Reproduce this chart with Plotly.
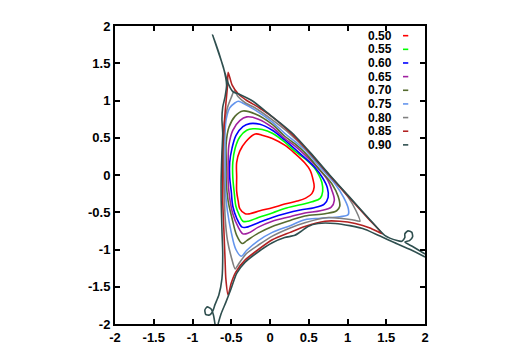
import plotly.graph_objects as go

# contour levels and their line colours
levels = ["0.50", "0.55", "0.60", "0.65", "0.70", "0.75", "0.80", "0.85", "0.90"]
colors = ["#ff0000", "#00ff00", "#0000ff", "#a020a0", "#556b2f",
          "#6495ed", "#808080", "#b22222", "#2f4f4f"]

# closed contours, points
x_050 = [-0.19, -0.09, 0.03, 0.19, 0.32, 0.45, 0.52, 0.55, 0.57, 0.54, 0.46, 0.35, 0.19, 0.03,
         -0.13, -0.26, -0.32, -0.39, -0.41, -0.43, -0.43, -0.43, -0.39, -0.31]
y_050 = [0.55, 0.53, 0.49, 0.40, 0.29, 0.16, 0.06, -0.04, -0.16, -0.25, -0.31, -0.35, -0.39, -0.44,
         -0.48, -0.52, -0.52, -0.45, -0.35, -0.22, -0.03, 0.17, 0.32, 0.45]

x_055 = [-0.22, -0.10, 0.03, 0.18, 0.32, 0.45, 0.57, 0.63, 0.67, 0.68, 0.65, 0.54, 0.39, 0.19,
         0.03, -0.15, -0.28, -0.35, -0.40, -0.44, -0.46, -0.48, -0.48, -0.45, -0.39, -0.30]
y_055 = [0.62, 0.61, 0.56, 0.45, 0.32, 0.22, 0.10, 0.00, -0.10, -0.22, -0.31, -0.36, -0.40, -0.45,
         -0.51, -0.57, -0.62, -0.62, -0.53, -0.42, -0.25, -0.03, 0.17, 0.36, 0.51, 0.60]

x_060 = [-0.26, -0.13, 0.03, 0.19, 0.32, 0.45, 0.58, 0.68, 0.74, 0.75, 0.70, 0.57, 0.39, 0.19,
         0.03, -0.15, -0.30, -0.36, -0.43, -0.48, -0.50, -0.52, -0.52, -0.49, -0.44, -0.35]
y_060 = [0.69, 0.68, 0.60, 0.47, 0.35, 0.23, 0.10, -0.04, -0.17, -0.30, -0.39, -0.44, -0.47, -0.52,
         -0.57, -0.64, -0.70, -0.70, -0.58, -0.42, -0.22, -0.03, 0.17, 0.36, 0.53, 0.65]

x_065 = [-0.30, -0.15, 0.03, 0.19, 0.32, 0.45, 0.62, 0.74, 0.80, 0.83, 0.79, 0.65, 0.45, 0.26,
         0.03, -0.15, -0.28, -0.35, -0.41, -0.48, -0.52, -0.54, -0.54, -0.53, -0.48, -0.39]
y_065 = [0.78, 0.75, 0.64, 0.49, 0.39, 0.27, 0.09, -0.06, -0.21, -0.34, -0.43, -0.48, -0.51, -0.56,
         -0.62, -0.70, -0.78, -0.79, -0.70, -0.52, -0.31, -0.09, 0.17, 0.40, 0.60, 0.73]

x_070 = [-0.35, -0.19, 0.03, 0.19, 0.32, 0.45, 0.65, 0.80, 0.88, 0.90, 0.86, 0.71, 0.45, 0.26,
         0.03, -0.15, -0.30, -0.36, -0.43, -0.49, -0.54, -0.565, -0.565, -0.565, -0.53, -0.45]
y_070 = [0.86, 0.82, 0.68, 0.52, 0.42, 0.30, 0.06, -0.12, -0.29, -0.42, -0.48, -0.52, -0.55, -0.61,
         -0.69, -0.78, -0.88, -0.92, -0.81, -0.58, -0.35, -0.09, 0.17, 0.43, 0.64, 0.79]

x_075 = [-0.41, -0.36, -0.19, 0.03, 0.19, 0.32, 0.45, 0.65, 0.84, 0.95, 1.01, 1.01, 0.90, 0.65,
         0.45, 0.26, 0.03, -0.15, -0.30, -0.37, -0.44, -0.50, -0.55, -0.575, -0.58, -0.58, -0.58,
         -0.565, -0.52, -0.45]
y_075 = [0.99, 0.97, 0.87, 0.71, 0.56, 0.45, 0.34, 0.10, -0.12, -0.30, -0.45, -0.53, -0.56, -0.58,
         -0.60, -0.68, -0.77, -0.88, -1.01, -1.09, -1.00, -0.77, -0.48, -0.22, 0.04, 0.30, 0.56,
         0.75, 0.90, 0.97]

x_080 = [-0.46, -0.41, -0.32, -0.19, 0.03, 0.26, 0.45, 0.65, 0.84, 1.01, 1.11, 1.16, 1.06, 0.90,
         0.75, 0.45, 0.26, 0.03, -0.15, -0.30, -0.39, -0.45, -0.50, -0.55, -0.58, -0.59, -0.60,
         -0.60, -0.59, -0.55, -0.50]
y_080 = [1.13, 1.05, 0.97, 0.90, 0.74, 0.55, 0.36, 0.13, -0.09, -0.30, -0.48, -0.62, -0.60, -0.58,
         -0.57, -0.64, -0.71, -0.82, -0.94, -1.05, -1.17, -1.26, -1.10, -0.87, -0.55, -0.22, 0.10,
         0.43, 0.69, 0.90, 1.04]

x_085 = [-0.54, -0.49, -0.41, -0.30, -0.15, 0.03, 0.26, 0.52, 0.77, 1.03, 1.29, 1.45, 1.29, 1.10,
         0.90, 0.71, 0.45, 0.26, 0.03, -0.15, -0.32, -0.44, -0.50, -0.54, -0.57, -0.58, -0.595,
         -0.61, -0.61, -0.61, -0.59, -0.57, -0.55]
y_085 = [1.38, 1.21, 1.09, 1.00, 0.91, 0.78, 0.57, 0.29, -0.01, -0.31, -0.61, -0.79, -0.71, -0.65,
         -0.62, -0.62, -0.69, -0.77, -0.87, -1.00, -1.14, -1.30, -1.45, -1.61, -1.39, -1.13, -0.74,
         -0.35, -0.03, 0.30, 0.69, 0.95, 1.18]

# the 0.90 level is open: two pieces leaving the frame
x_090a = [-0.71, -0.73, -0.76, -0.81, -0.84, -0.83, -0.78, -0.74, -0.71, -0.66, -0.62, -0.61,
          -0.62, -0.63, -0.63, -0.62, -0.61, -0.62, -0.61, -0.58, -0.56, -0.60, -0.67, -0.74,
          -0.66, -0.59, -0.54, -0.48, -0.39, -0.22, -0.04, 0.13, 0.30, 0.52, 0.77, 1.03, 1.29,
          1.48, 1.64, 1.70, 1.74, 1.74, 1.78, 1.83, 1.84, 1.80, 1.74, 1.84, 2.0]
y_090a = [-2.0, -1.88, -1.80, -1.77, -1.81, -1.87, -1.88, -1.83, -1.74, -1.61, -1.39, -1.06,
          -0.74, -0.35, -0.03, 0.30, 0.56, 0.75, 0.91, 1.05, 1.21, 1.44, 1.66, 1.88,
          1.64, 1.40, 1.23, 1.12, 1.08, 0.99, 0.84, 0.70, 0.55, 0.30, 0.00, -0.30, -0.60,
          -0.81, -0.88, -0.89, -0.84, -0.79, -0.75, -0.77, -0.83, -0.88, -0.90, -0.96, -1.06]

x_090b = [2.0, 1.81, 1.61, 1.42, 1.23, 1.03, 0.84, 0.62, 0.49, 0.41, 0.32, 0.19, 0.03, -0.15,
          -0.32, -0.43, -0.50, -0.57, -0.63, -0.67]
y_090b = [-1.10, -1.00, -0.91, -0.82, -0.73, -0.68, -0.65, -0.65, -0.69, -0.75, -0.81, -0.84,
          -0.91, -1.03, -1.17, -1.32, -1.52, -1.71, -1.86, -2.0]

ticks = [-2, -1.5, -1, -0.5, 0, 0.5, 1, 1.5, 2]
tick_text = ["-2", "-1.5", "-1", "-0.5", "0", "0.5", "1", "1.5", "2"]

closed = [(x_050, y_050), (x_055, y_055), (x_060, y_060), (x_065, y_065),
          (x_070, y_070), (x_075, y_075), (x_080, y_080), (x_085, y_085)]

fig = go.Figure()

for i, (xs, ys) in enumerate(closed):
    smooth = 1.0 if i < 6 else 0.6
    fig.add_trace(go.Scatter(
        x=xs + [xs[0]], y=ys + [ys[0]],
        mode="lines",
        line=dict(color=colors[i], width=1.6, shape="spline", smoothing=smooth),
        showlegend=False, hoverinfo="skip"
    ))

for xs, ys in [(x_090a, y_090a), (x_090b, y_090b)]:
    fig.add_trace(go.Scatter(
        x=xs, y=ys,
        mode="lines",
        line=dict(color=colors[8], width=1.6, shape="spline", smoothing=0.6),
        showlegend=False, hoverinfo="skip"
    ))

# gnuplot-style key: right-aligned text with a short sample to its right
font = dict(family="Liberation Sans", size=13, color="black", weight="bold")
key_font = dict(family="Liberation Sans", size=12, color="black", weight="bold")
annotations = []
shapes = []
for i, (lev, col) in enumerate(zip(levels, colors)):
    yp = 0.9675 - i * 0.0458
    annotations.append(dict(
        x=0.897, y=yp, xref="paper", yref="paper", text=lev,
        showarrow=False, xanchor="right", yanchor="middle",
        font=key_font, borderpad=0
    ))
    shapes.append(dict(
        type="line", xref="paper", yref="paper",
        x0=0.929, x1=0.946, y0=yp, y1=yp,
        line=dict(color=col, width=1.6)
    ))

axis_common = dict(
    tickmode="array", tickvals=ticks, ticktext=tick_text,
    ticks="inside", ticklen=5, tickwidth=2, tickcolor="black",
    showline=True, linewidth=2, linecolor="black", mirror="ticks",
    showgrid=False, zeroline=False,
    tickfont=font,
)

# page body adds an 8px offset, so the figure is 8px smaller than the window
fig.update_layout(
    width=500, height=348,
    margin=dict(l=107, r=83, t=11, b=29),
    xaxis=dict(range=[-2, 2], **axis_common),
    yaxis=dict(range=[-2, 2], **axis_common),
    annotations=annotations,
    shapes=shapes,
    plot_bgcolor="white",
    paper_bgcolor="white",
)

fig.write_html("out.html")
